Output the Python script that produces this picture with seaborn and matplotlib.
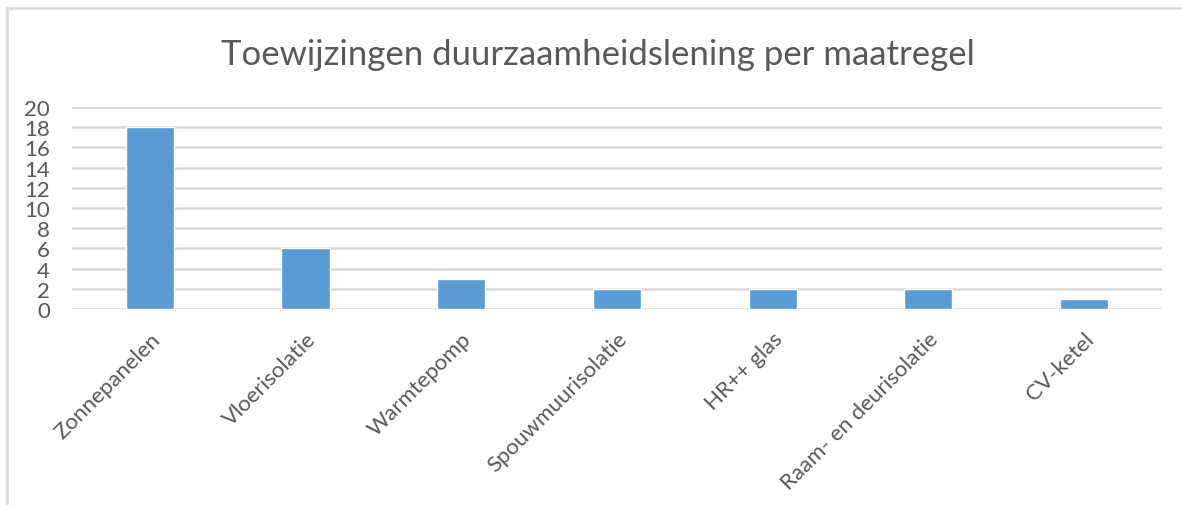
import numpy as np
import pandas as pd
import seaborn as sns
import matplotlib.pyplot as plt
from matplotlib.lines import Line2D

# Data
maatregelen = ["Zonnepanelen", "Vloerisolatie", "Warmtepomp", "Spouwmuurisolatie",
               "HR++ glas", "Raam- en deurisolatie", "CV-ketel"]
aantallen = [18, 6, 3, 2, 2, 2, 1]

df = pd.DataFrame({"maatregel": maatregelen, "aantal": aantallen})

# Settings
sns.set_style("white")
plt.rcParams['font.family'] = ['Lato', 'DejaVu Sans']
text_color = "#595959"
grid_color = "#D9D9D9"

fig = plt.figure(figsize=(11.82, 5.06), dpi=100)
ax = fig.add_axes([0.0609, 0.3874, 0.9221, 0.3992])

sns.barplot(x="maatregel", y="aantal", data=df, color="#5B9BD5",
            width=0.31, saturation=1, ax=ax)

ax.set_ylim(0, 20)
ax.set_yticks(np.arange(0, 21, 2))
ax.set_xlim(-0.5, len(maatregelen) - 0.5)
ax.yaxis.grid(True, color=grid_color, linewidth=1.8)
ax.set_axisbelow(True)
for s in ax.spines.values():
    s.set_visible(False)
ax.set_xlabel("")
ax.set_ylabel("")
ax.tick_params(axis="y", length=0, pad=16, labelsize=16, labelcolor=text_color)
ax.tick_params(axis="x", length=0, pad=14, labelsize=16, labelcolor=text_color)
plt.setp(ax.get_xticklabels(), rotation=45, ha="right", rotation_mode="anchor")

fig.text(0.506, 0.891, "Toewijzingen duurzaamheidslening per maatregel",
         ha="center", va="center", fontsize=25, color=text_color)

# chart frame (cropped at right and bottom)
fig.add_artist(Line2D([7 / 1182, 7 / 1182], [0, 1 - 9 / 506],
                      transform=fig.transFigure, color=grid_color, linewidth=1.8))
fig.add_artist(Line2D([7 / 1182, 1], [1 - 9 / 506, 1 - 9 / 506],
                      transform=fig.transFigure, color=grid_color, linewidth=1.8))

plt.savefig("out.png", dpi=100)
